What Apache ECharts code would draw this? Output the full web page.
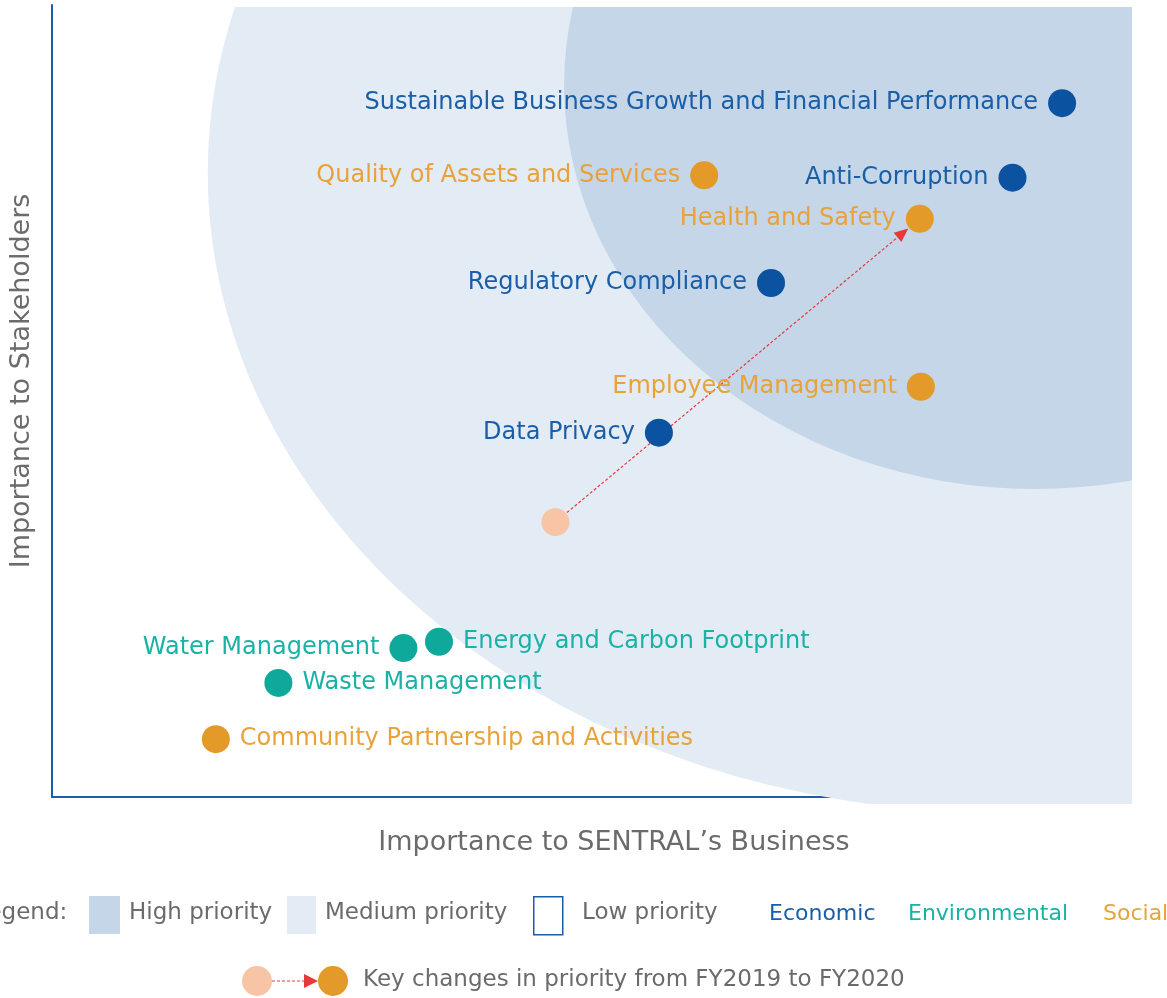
<!DOCTYPE html>
<html>
<head>
<meta charset="utf-8">
<script src="https://cdn.jsdelivr.net/npm/echarts@6/dist/echarts.min.js"></script>
<style>
  html, body { margin: 0; padding: 0; background: #fff; }
  #chart { width: 1167px; height: 998px; }
</style>
</head>
<body>
<div id="chart"></div>
<script>
    // material topics (0-100 on both axes)
    var topics = ['Sustainable Business Growth and Financial Performance', 'Anti-Corruption',
        'Quality of Assets and Services', 'Health and Safety', 'Regulatory Compliance',
        'Employee Management', 'Data Privacy', 'Energy and Carbon Footprint',
        'Water Management', 'Waste Management', 'Community Partnership and Activities'];
    var business = [93.7, 89.1, 60.5, 80.5, 66.7, 80.6, 56.3, 35.9, 32.6, 21.0, 15.2];
    var stakeholders = [87.6, 78.2, 78.5, 73.0, 64.9, 51.8, 46.0, 19.6, 18.8, 14.4, 7.3];
    var pillar = ['Economic', 'Economic', 'Social', 'Social', 'Economic', 'Social', 'Economic',
        'Environmental', 'Environmental', 'Environmental', 'Social'];
    var labelSide = ['left', 'left', 'left', 'left', 'left', 'left', 'left', 'right', 'left', 'right', 'right'];

    // FY2019 position of the topic that moved
    var movedTopic = 'Health and Safety';
    var prevBusiness = 46.7;
    var prevStakeholders = 34.7;

    // priority zones (ellipses in data units)
    var zoneNames = ['Medium priority', 'High priority'];
    var zoneCx = [87.95, 91.2];
    var zoneCy = [78.8, 89.9];
    var zoneRx = [73.5, 43.7];
    var zoneRy = [80.8, 51.0];

    var colors = {
        Economic: '#0b52a0',
        Environmental: '#0fa99b',
        Social: '#e39a28'
    };
    var labelColors = {
        Economic: '#1a5ea8',
        Environmental: '#1ab2a5',
        Social: '#e9a23a'
    };
    var zoneFill = ['#e3ecf4', '#c5d6e8'];
    var font = 'DejaVu Sans';
    var grey = '#6b6b6b';

    var chart = echarts.init(document.getElementById('chart'));

    function pillarData(p) {
        var out = [];
        for (var i = 0; i < topics.length; i++) {
            if (pillar[i] !== p) continue;
            out.push({
                name: topics[i],
                value: [business[i], stakeholders[i]],
                label: { position: labelSide[i] }
            });
        }
        return out;
    }

    function pillarSeries(p) {
        return {
            name: p,
            type: 'scatter',
            symbolSize: 28,
            z: 5,
            itemStyle: { color: colors[p], opacity: 1 },
            label: {
                show: true,
                formatter: '{b}',
                distance: 10,
                fontFamily: font,
                fontSize: 24,
                color: labelColors[p]
            },
            data: pillarData(p)
        };
    }

    var zoneData = [];
    for (var z = 0; z < zoneNames.length; z++) {
        zoneData.push({ name: zoneNames[z], value: [zoneCx[z], zoneCy[z], zoneRx[z], zoneRy[z]] });
    }

    var movedIdx = topics.indexOf(movedTopic);
    var legendFont = '23px "DejaVu Sans"';

    var option = {
        animation: false,
        grid: { left: 51, top: 5, right: 37, bottom: 201 },
        xAxis: {
            type: 'value', min: 0, max: 100,
            name: 'Importance to SENTRAL\u2019s Business',
            nameLocation: 'middle', nameGap: 32,
            nameTextStyle: { fontFamily: font, fontSize: 27, color: grey, padding: [0, 0, 0, 46] },
            axisLine: { lineStyle: { color: '#1a5ea8', width: 2 } },
            axisTick: { show: false }, axisLabel: { show: false }, splitLine: { show: false }
        },
        yAxis: {
            type: 'value', min: 0, max: 100,
            name: 'Importance to Stakeholders',
            nameLocation: 'middle', nameGap: 17,
            nameTextStyle: { fontFamily: font, fontSize: 27, color: grey, padding: [0, 0, 0, 40] },
            axisLine: { lineStyle: { color: '#1a5ea8', width: 2 } },
            axisTick: { show: false }, axisLabel: { show: false }, splitLine: { show: false }
        },
        series: [
            {
                type: 'custom',
                name: 'zones',
                silent: true,
                clip: false,
                z: 1,
                data: zoneData,
                renderItem: function (params, api) {
                    var c = api.coord([api.value(0), api.value(1)]);
                    var s = api.size([api.value(2), api.value(3)]);
                    var cs = params.coordSys;
                    return {
                        type: 'group',
                        clipPath: { type: 'rect', shape: { x: cs.x, y: cs.y + 2, width: cs.width + 2, height: cs.height + 5 } },
                        children: [{
                            type: 'circle',
                            shape: { cx: 0, cy: 0, r: 1 },
                            x: c[0], y: c[1],
                            scaleX: s[0], scaleY: s[1],
                            style: { fill: zoneFill[params.dataIndex] }
                        }]
                    };
                }
            },
            {
                type: 'custom',
                name: 'change',
                silent: true,
                z: 3,
                data: [[prevBusiness, prevStakeholders, business[movedIdx], stakeholders[movedIdx]]],
                renderItem: function (params, api) {
                    var p0 = api.coord([api.value(0), api.value(1)]);
                    var p1 = api.coord([api.value(2), api.value(3)]);
                    var dx = p1[0] - p0[0], dy = p1[1] - p0[1];
                    var len = Math.sqrt(dx * dx + dy * dy);
                    var ux = dx / len, uy = dy / len;
                    var tip = [p1[0] - ux * 15, p1[1] - uy * 15];
                    var base = [tip[0] - ux * 14, tip[1] - uy * 14];
                    return {
                        type: 'group',
                        children: [{
                            type: 'line',
                            shape: { x1: p0[0], y1: p0[1], x2: base[0], y2: base[1] },
                            style: { stroke: '#e8393a', lineWidth: 1.2, lineDash: [3, 2] }
                        }, {
                            type: 'polygon',
                            shape: { points: [tip, [base[0] - uy * 6, base[1] + ux * 6], [base[0] + uy * 6, base[1] - ux * 6]] },
                            style: { fill: '#e8393a' }
                        }]
                    };
                }
            },
            {
                name: 'FY2019',
                type: 'scatter',
                symbolSize: 28,
                z: 4,
                itemStyle: { color: '#f7c5a6', opacity: 1 },
                data: [{ name: movedTopic, value: [prevBusiness, prevStakeholders] }]
            },
            pillarSeries('Economic'),
            pillarSeries('Environmental'),
            pillarSeries('Social')
        ],
        graphic: [
            { type: 'text', left: -25, top: 902, style: { text: 'Legend:', font: legendFont, fill: grey } },
            { type: 'rect', left: 89, top: 896, shape: { width: 31, height: 38 }, style: { fill: '#c5d6e8' } },
            { type: 'text', left: 129, top: 902, style: { text: 'High priority', font: legendFont, fill: grey } },
            { type: 'rect', left: 287, top: 896, shape: { width: 29, height: 38 }, style: { fill: '#e3ecf4' } },
            { type: 'text', left: 325, top: 902, style: { text: 'Medium priority', font: legendFont, fill: grey } },
            { type: 'rect', left: 533, top: 896, shape: { width: 29, height: 38 }, style: { fill: '#fff', stroke: '#1a5ea8', lineWidth: 1.5 } },
            { type: 'text', left: 582, top: 902, style: { text: 'Low priority', font: legendFont, fill: grey } },
            { type: 'text', left: 769, top: 903, style: { text: 'Economic', font: '22px "DejaVu Sans"', fill: labelColors.Economic } },
            { type: 'text', left: 908, top: 903, style: { text: 'Environmental', font: '22px "DejaVu Sans"', fill: labelColors.Environmental } },
            { type: 'text', left: 1103, top: 903, style: { text: 'Social', font: '22px "DejaVu Sans"', fill: labelColors.Social } },
            { type: 'circle', shape: { cx: 257, cy: 981, r: 15 }, style: { fill: '#f7c5a6' } },
            { type: 'line', shape: { x1: 272, y1: 981, x2: 305, y2: 981 }, style: { stroke: '#e8393a', lineWidth: 1.2, lineDash: [3, 2] } },
            { type: 'polygon', shape: { points: [[304, 974], [304, 988], [318, 981]] }, style: { fill: '#e8393a' } },
            { type: 'circle', shape: { cx: 333, cy: 981, r: 15 }, style: { fill: '#e39a28' } },
            { type: 'text', left: 363, top: 969, style: { text: 'Key changes in priority from FY2019 to FY2020', font: legendFont, fill: grey } }
        ]
    };

    chart.setOption(option);
</script>
</body>
</html>
